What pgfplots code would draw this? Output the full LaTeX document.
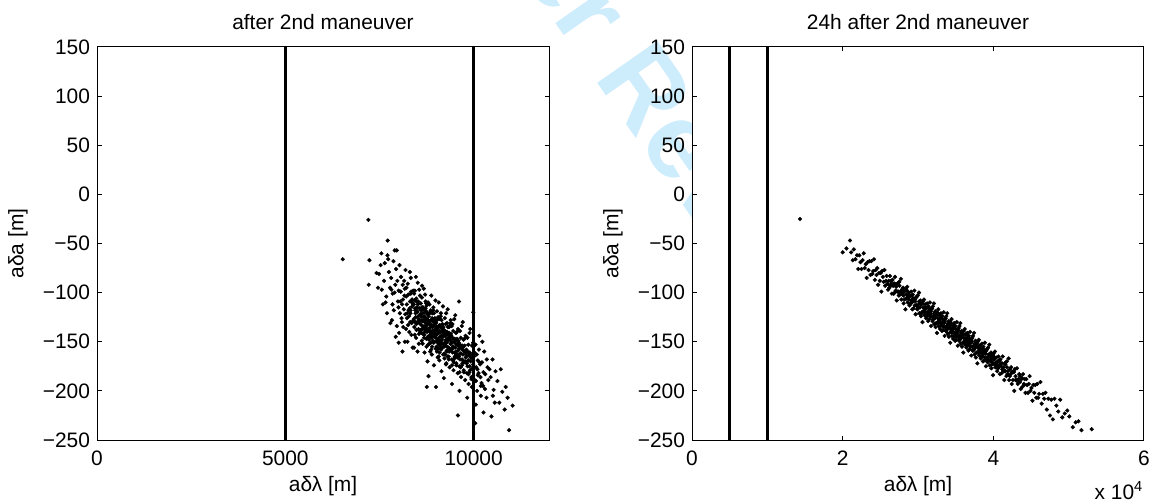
\documentclass[border=0pt]{standalone}
\usepackage{pgfplots}
\pgfplotsset{compat=1.18}
\usepackage{fontspec}
\setmainfont{Liberation Sans}
\definecolor{wm}{RGB}{205,236,252}
\begin{document}
\begin{tikzpicture}
\path[use as bounding box] (0bp,0bp) rectangle (575.5bp,251bp);
\node[wm, rotate=-55, anchor=base west, inner sep=0, font=\fontsize{53.5}{60}\selectfont\bfseries] at (296.5bp,212.5bp) {Review};
\node[wm, rotate=-55, anchor=base east, inner sep=0, font=\fontsize{53.5}{60}\selectfont\bfseries] at (287.9bp,224.8bp) {For Peer};
\pgfplotsset{
  mystyle/.style={
    scale only axis, width=226bp, height=196.5bp,
    axis background/.style={fill=white},
    tick align=inside,
    major tick length=2.25bp,
    ymin=-250, ymax=150,
    ytick={-250,-200,-150,-100,-50,0,50,100,150},
    yticklabels={−250,−200,−150,−100,−50,0,50,100,150},
    tick label style={font=\fontsize{10.5}{12}\selectfont},
    label style={font=\fontsize{10.5}{12}\selectfont},
    title style={font=\fontsize{10.5}{12}\selectfont, at={(0.5,1)}, anchor=base, yshift=3bp},
    xticklabel style={yshift=-2bp},
    xlabel={aδλ [m]}, ylabel={aδa [m]},
    xlabel style={at={(axis description cs:0.5,0)}, anchor=base, yshift=-25.9bp},
    ylabel style={at={(axis description cs:-0.175,0.5)}, anchor=center},
    axis line style={line width=0.5bp},
    every tick/.style={black, line width=0.5bp},
    scaled x ticks=false,
  },
  dots/.style={only marks, mark=*, mark size=0.95bp, mark options={line width=0.2bp}, black},
  vline/.style={black, line width=1.3bp},
}
\begin{axis}[mystyle, at={(48.5bp,31bp)}, anchor=south west, title={after 2nd maneuver},
  xmin=0, xmax=12000, xtick={0,5000,10000}, xticklabels={0,5000,10000}]
\addplot[dots] coordinates {
(6525,-66) (7205,-26) (7232,-67) (7214,-92) (7717,-47)
(7420,-80) (7488,-81) (7530,-72) (7560,-97) (7590,-112) (7460,-95) (7550,-60)
(7640,-70) (7711,-62) (7620,-88) (7680,-104) (7750,-79) (7700,-121) (7780,-95) (7660,-110) (7730,-66) (7790,-131)
(7904,-57) (7957,-57) (7810,-85) (7850,-101) (7880,-118) (7920,-92) (7940,-76) (7990,-109) (7830,-128) (7870,-68) (7960,-134) (7900,-100) (7845,-112) (7975,-88) (7815,-97) (7930,-145)
(8010,-98) (8040,-121) (8070,-84) (8100,-112) (8130,-135) (8160,-103) (8190,-77) (8020,-141) (8055,-109) (8085,-126) (8115,-92) (8145,-117) (8175,-150) (8005,-115) (8030,-72) (8065,-99) (8095,-130) (8125,-107) (8155,-88) (8185,-122) (8110,-160) (8170,-96)
(8210,-104) (8230,-126) (8250,-91) (8270,-118) (8290,-140) (8310,-109) (8330,-85) (8350,-131) (8370,-114) (8390,-98) (8205,-137) (8225,-112) (8245,-150) (8265,-102) (8285,-124) (8305,-79) (8325,-118) (8345,-143) (8365,-107) (8385,-129) (8215,-95) (8260,-133) (8300,-116) (8340,-99) (8380,-156) (8235,-121) (8315,-130) (8395,-112)
(8410,-112) (8425,-135) (8440,-98) (8455,-121) (8470,-146) (8485,-109) (8500,-130) (8515,-90) (8530,-124) (8545,-152) (8560,-116) (8575,-103) (8590,-138) (8405,-127) (8420,-101) (8435,-143) (8450,-118) (8465,-84) (8480,-132) (8495,-115) (8510,-160) (8525,-109) (8540,-127) (8555,-97) (8570,-140) (8585,-122) (8415,-156) (8445,-130) (8475,-106) (8505,-119) (8535,-137) (8565,-128) (8595,-111) (8460,-125)
(8605,-118) (8615,-141) (8625,-105) (8635,-129) (8645,-152) (8655,-115) (8665,-136) (8675,-96) (8685,-124) (8695,-161) (8705,-120) (8715,-138) (8725,-109) (8735,-132) (8745,-147) (8755,-113) (8765,-127) (8775,-170) (8785,-121) (8795,-139) (8610,-128) (8630,-93) (8650,-134) (8670,-117) (8690,-143) (8710,-102) (8730,-126) (8750,-155) (8770,-131) (8790,-110) (8620,-149) (8660,-125) (8700,-135) (8740,-119) (8780,-145) (8640,-137) (8720,-128) (8760,-140)
(8805,-124) (8815,-148) (8825,-112) (8835,-136) (8845,-160) (8855,-129) (8865,-141) (8875,-103) (8885,-133) (8895,-155) (8905,-121) (8915,-144) (8925,-118) (8935,-139) (8945,-174) (8955,-127) (8965,-150) (8975,-131) (8985,-108) (8995,-146) (8810,-137) (8830,-121) (8850,-145) (8870,-128) (8890,-163) (8910,-135) (8930,-115) (8950,-142) (8970,-126) (8990,-157) (8820,-132) (8860,-151) (8900,-139) (8940,-130) (8980,-134) (8840,-143) (8880,-120) (8920,-149) (8960,-138) (8800,-185)
(9005,-131) (9015,-155) (9025,-119) (9035,-142) (9045,-166) (9055,-135) (9065,-148) (9075,-110) (9085,-139) (9095,-161) (9105,-127) (9115,-150) (9125,-124) (9135,-145) (9145,-180) (9155,-133) (9165,-156) (9175,-137) (9185,-114) (9195,-152) (9010,-143) (9030,-128) (9050,-151) (9070,-134) (9090,-169) (9110,-141) (9130,-121) (9150,-148) (9170,-132) (9190,-163) (9020,-138) (9060,-157) (9100,-145) (9140,-136) (9180,-140) (9040,-149) (9080,-126) (9120,-155) (9160,-144) (9000,-196)
(9205,-138) (9220,-162) (9235,-126) (9250,-149) (9265,-173) (9280,-142) (9295,-155) (9310,-117) (9325,-146) (9340,-168) (9355,-134) (9370,-157) (9385,-131) (9395,-152) (9210,-187) (9225,-140) (9240,-163) (9255,-144) (9270,-121) (9285,-159) (9300,-150) (9315,-135) (9330,-158) (9345,-141) (9360,-176) (9375,-148) (9390,-128) (9215,-155) (9245,-139) (9275,-151) (9305,-165) (9335,-147) (9365,-143) (9230,-152) (9290,-131) (9350,-160)
(9405,-144) (9420,-168) (9435,-132) (9450,-155) (9465,-179) (9480,-148) (9495,-161) (9510,-123) (9525,-152) (9540,-174) (9555,-140) (9570,-163) (9585,-137) (9410,-158) (9425,-193) (9440,-146) (9455,-169) (9470,-150) (9485,-127) (9500,-165) (9515,-156) (9530,-141) (9545,-164) (9560,-147) (9575,-182) (9590,-154) (9415,-134) (9445,-157) (9475,-171) (9505,-149) (9535,-160) (9565,-153)
(9605,-151) (9620,-175) (9635,-139) (9650,-162) (9665,-186) (9680,-155) (9695,-168) (9710,-130) (9725,-159) (9740,-181) (9755,-147) (9770,-170) (9785,-144) (9610,-165) (9625,-200) (9640,-153) (9655,-176) (9670,-157) (9685,-134) (9700,-172) (9715,-163) (9730,-148) (9745,-171) (9760,-154) (9775,-189) (9790,-161)
(9805,-158) (9820,-182) (9835,-146) (9850,-169) (9865,-193) (9880,-162) (9895,-175) (9910,-137) (9925,-166) (9940,-188) (9955,-154) (9970,-177) (9985,-151) (9815,-172) (9830,-207) (9845,-160) (9860,-183) (9875,-164) (9890,-141) (9905,-179) (9920,-170) (9950,-196)
(10010,-165) (10030,-189) (10050,-153) (10070,-176) (10090,-200) (10110,-169) (10130,-182) (10150,-144) (10170,-173) (10190,-195) (10020,-161) (10060,-214) (10100,-178) (10140,-158) (10180,-186) (10040,-233)
(10220,-171) (10250,-195) (10280,-160) (10310,-183) (10340,-207) (10370,-176) (10390,-189) (10230,-150) (10300,-198) (10350,-168) (10260,-222)
(10420,-178) (10472,-226) (10500,-168) (10530,-199) (10560,-212) (10450,-186) (10580,-180) (10510,-205)
(10630,-190) (10680,-212) (10720,-178) (10760,-201) (10823,-219)
(10850,-196) (10940,-240) (11035,-215) (10900,-207)
(9581,-225) (8757,-196) (8009,-151) (9990,-120) (9610,-109)
(8320,-121) (8360,-110) (8410,-129) (8445,-116) (8480,-138) (8520,-112) (8560,-131) (8590,-124) (8330,-101) (8430,-108) (8500,-120) (8550,-142)
(8612,-133) (8642,-121) (8668,-129) (8702,-140) (8722,-116) (8748,-134) (8772,-122) (8798,-128) (8628,-115) (8682,-146) (8712,-130) (8758,-137) (8788,-153) (8652,-142) (8738,-111)
(8812,-129) (8838,-140) (8862,-134) (8888,-146) (8912,-128) (8938,-151) (8962,-133) (8988,-139) (8825,-152) (8858,-118) (8898,-126) (8932,-142) (8968,-145) (8995,-128) (8872,-158) (8948,-121)
(9012,-136) (9038,-147) (9062,-141) (9088,-153) (9112,-135) (9138,-158) (9162,-139) (9188,-145) (9025,-160) (9058,-125) (9098,-133) (9132,-149) (9168,-152) (9195,-135) (9072,-165) (9148,-128)
(9212,-143) (9238,-154) (9262,-148) (9288,-160) (9312,-142) (9338,-165) (9362,-146) (9388,-152) (9225,-167) (9258,-132) (9298,-140) (9332,-156) (9368,-159) (9395,-142) (9272,-172) (9348,-135)
(9412,-150) (9438,-161) (9462,-155) (9488,-167) (9512,-149) (9538,-172) (9562,-153) (9588,-159) (9425,-174) (9458,-139) (9498,-147) (9532,-163) (9568,-166) (9595,-149)
(9612,-157) (9638,-168) (9662,-162) (9688,-174) (9712,-156) (9738,-179) (9762,-160) (9788,-166) (9625,-181) (9658,-146) (9698,-154) (9732,-170)
(9812,-164) (9838,-175) (9862,-169) (9888,-181) (9912,-163) (9938,-186) (9962,-167) (9988,-173) (9858,-153) (9898,-161)
(10020,-176) (10060,-190) (10110,-184) (10160,-171) (10210,-192) (10260,-181) (10080,-163) (10190,-205)
};
\addplot[vline] coordinates {(5000,-250) (5000,150)};
\addplot[vline] coordinates {(10000,-250) (10000,150)};
\end{axis}
\begin{axis}[mystyle, at={(346bp,31bp)}, anchor=south west, title={24h after 2nd maneuver},
  xmin=0, xmax=60000, xtick={0,20000,40000,60000}, xticklabels={0,2,4,6}]
\addplot[dots] coordinates {
(14336,-25) (20004,-59) (20500,-55) (20973,-47)
(21120,-59) (21340,-67) (21480,-56) (21690,-66) (21910,-62)
(22070,-76) (22210,-62) (22360,-69) (22500,-76) (22640,-67) (22790,-60) (22930,-75)
(23060,-71) (23190,-85) (23310,-69) (23440,-77) (23560,-68) (23690,-82) (23810,-68) (23940,-81)
(24050,-78) (24160,-66) (24270,-87) (24380,-77) (24490,-82) (24600,-75) (24710,-92) (24820,-80) (24930,-88)
(25040,-80) (25140,-99) (25240,-78) (25340,-84) (25440,-89) (25540,-77) (25640,-93) (25740,-88) (25840,-83) (25940,-91)
(26030,-97) (26110,-88) (26200,-95) (26280,-83) (26360,-92) (26450,-88) (26530,-101) (26610,-87) (26700,-93) (26780,-101) (26860,-91) (26950,-84)
(27030,-98) (27100,-94) (27170,-108) (27240,-91) (27310,-99) (27380,-90) (27450,-103) (27520,-89) (27590,-102) (27660,-99) (27730,-86) (27800,-107) (27870,-97) (27940,-101)
(28030,-95) (28090,-111) (28150,-99) (28210,-107) (28270,-98) (28330,-117) (28390,-96) (28450,-102) (28510,-106) (28570,-94) (28630,-110) (28690,-104) (28750,-100) (28810,-107) (28870,-113) (28930,-104)
(29025,-111) (29080,-99) (29135,-108) (29190,-103) (29245,-117) (29300,-102) (29355,-108) (29410,-116) (29465,-106) (29520,-98) (29575,-113) (29630,-109) (29685,-122) (29740,-105) (29795,-113) (29850,-104) (29905,-117) (29960,-103)
(30025,-116) (30075,-112) (30130,-100) (30180,-121) (30230,-110) (30285,-115) (30335,-108) (30390,-124) (30440,-112) (30495,-120) (30545,-111) (30595,-130) (30650,-109) (30700,-115) (30750,-119) (30805,-107) (30855,-123) (30910,-117) (30960,-112)
(31020,-120) (31070,-126) (31115,-116) (31160,-124) (31210,-111) (31255,-120) (31305,-115) (31350,-129) (31400,-114) (31445,-120) (31495,-127) (31540,-118) (31590,-110) (31635,-124) (31685,-121) (31730,-134) (31780,-117) (31825,-124) (31875,-116) (31920,-129) (31970,-114)
(32020,-127) (32065,-124) (32110,-111) (32155,-132) (32200,-121) (32245,-126) (32290,-119) (32335,-135) (32380,-123) (32425,-131) (32470,-122) (32515,-141) (32560,-120) (32605,-126) (32650,-130) (32695,-117) (32740,-134) (32785,-128) (32830,-123) (32875,-130) (32920,-137) (32965,-127)
(33020,-134) (33060,-121) (33105,-131) (33150,-126) (33190,-139) (33235,-124) (33280,-131) (33320,-138) (33365,-128) (33410,-120) (33450,-135) (33495,-131) (33540,-144) (33580,-127) (33625,-135) (33670,-126) (33710,-139) (33755,-124) (33800,-138) (33840,-134) (33885,-121) (33930,-142) (33970,-132)
(34020,-136) (34060,-129) (34105,-145) (34150,-134) (34190,-141) (34235,-132) (34280,-151) (34320,-130) (34365,-136) (34410,-140) (34450,-127) (34495,-144) (34540,-138) (34580,-133) (34625,-140) (34670,-147) (34710,-137) (34755,-144) (34800,-131) (34840,-141) (34885,-136) (34930,-149) (34970,-134)
(35020,-141) (35060,-148) (35105,-138) (35150,-130) (35190,-145) (35235,-142) (35280,-154) (35320,-137) (35365,-145) (35410,-136) (35450,-149) (35495,-134) (35540,-148) (35580,-144) (35625,-131) (35670,-152) (35710,-141) (35755,-146) (35800,-139) (35840,-155) (35885,-143) (35930,-151) (35970,-142)
(36020,-161) (36065,-139) (36110,-146) (36155,-150) (36200,-137) (36245,-153) (36290,-148) (36335,-143) (36380,-150) (36425,-156) (36470,-147) (36515,-154) (36560,-141) (36605,-150) (36650,-146) (36695,-159) (36740,-144) (36785,-151) (36830,-158) (36875,-148) (36920,-140) (36965,-155)
(37020,-151) (37070,-164) (37115,-147) (37160,-155) (37210,-146) (37255,-159) (37305,-144) (37350,-158) (37400,-154) (37445,-141) (37495,-163) (37540,-152) (37590,-156) (37635,-149) (37685,-166) (37730,-154) (37780,-161) (37825,-152) (37875,-172) (37920,-150) (37970,-156)
(38025,-160) (38075,-148) (38125,-164) (38175,-158) (38225,-154) (38275,-161) (38325,-167) (38375,-158) (38425,-165) (38475,-152) (38525,-161) (38575,-157) (38625,-170) (38675,-155) (38725,-162) (38775,-169) (38825,-159) (38875,-151) (38925,-166) (38975,-162)
(39025,-175) (39080,-159) (39135,-166) (39190,-157) (39245,-171) (39300,-156) (39355,-169) (39410,-165) (39465,-153) (39520,-174) (39575,-163) (39630,-168) (39685,-161) (39740,-177) (39795,-166) (39850,-173) (39905,-164) (39960,-184)
(40030,-162) (40090,-168) (40150,-173) (40210,-160) (40270,-176) (40330,-171) (40390,-166) (40450,-173) (40510,-180) (40570,-170) (40630,-177) (40690,-165) (40750,-174) (40810,-169) (40870,-183) (40930,-168)
(41030,-175) (41100,-182) (41170,-172) (41240,-165) (41310,-179) (41380,-176) (41450,-189) (41520,-172) (41590,-180) (41660,-171) (41730,-185) (41800,-170) (41870,-183) (41940,-180)
(42030,-167) (42110,-189) (42200,-178) (42280,-183) (42360,-176) (42450,-193) (42530,-181) (42610,-189) (42700,-180) (42780,-200) (42860,-178) (42950,-185)
(43040,-189) (43140,-177) (43240,-193) (43340,-188) (43440,-183) (43540,-191) (43640,-198) (43740,-188) (43840,-196) (43940,-183)
(44050,-193) (44160,-188) (44270,-202) (44380,-188) (44490,-194) (44600,-202) (44710,-193) (44820,-185) (44930,-200)
(45060,-197) (45190,-210) (45310,-194) (45440,-202) (45560,-194) (45690,-207) (45810,-193) (45940,-207)
(46080,-203) (46250,-191) (46420,-213) (46580,-203) (46750,-208) (46920,-202)
(47100,-219) (47300,-208) (47522,-225) (47700,-209) (47900,-229)
(48120,-208) (48370,-215) (48620,-221) (48870,-209)
(49150,-227) (49480,-223) (49820,-220)
(50084,-226) (50550,-237) (50934,-232)
(51300,-231) (51700,-240) (53058,-239)
(26300,-93) (26900,-91) (27400,-99) (27900,-97) (28400,-106) (28800,-102) (29200,-110) (29600,-107) (30000,-115) (30350,-111)
(30700,-119) (31050,-115) (31380,-123) (31700,-119) (32050,-127) (32350,-122) (32650,-130) (32950,-126) (33250,-134) (33550,-129)
(33850,-137) (34150,-132) (34450,-140) (34750,-136) (35050,-144) (35350,-139) (35650,-147) (35950,-143) (36250,-151) (36550,-146)
(36850,-154) (37150,-150) (37450,-158) (37750,-153) (38050,-161) (38350,-157) (38650,-165) (38950,-160) (39250,-168) (39550,-163)
(39850,-171) (40200,-167) (40600,-176) (41000,-172) (41400,-180) (41800,-176) (42200,-185) (42700,-181) (43300,-191) (43800,-187)
(26450,-89) (27050,-99) (27550,-93) (28050,-103) (28550,-98) (28950,-111) (29350,-106) (29750,-113) (30150,-109) (30500,-121)
(30850,-116) (31200,-123) (31530,-116) (31850,-124) (32200,-121) (32500,-131) (32800,-122) (33100,-133) (33400,-129) (33700,-139)
(34000,-131) (34300,-137) (34600,-133) (34900,-144) (35200,-138) (35500,-148) (35800,-143) (36100,-150) (36400,-142) (36700,-152)
(37000,-148) (37300,-159) (37600,-154) (37900,-161) (38200,-154) (38500,-162) (38800,-159) (39100,-169) (39400,-163) (39700,-170)
(40050,-165) (40400,-176) (40800,-170) (41200,-178) (41600,-173) (42000,-184) (42450,-181) (42950,-189) (43550,-185) (44100,-194)
};
\addplot[vline] coordinates {(5000,-250) (5000,150)};
\addplot[vline] coordinates {(10000,-250) (10000,150)};
\end{axis}
\node[anchor=base, font=\fontsize{10.5}{12}\selectfont] at (559.5bp,1.5bp) {x 10\textsuperscript{4}};
\end{tikzpicture}
\end{document}
